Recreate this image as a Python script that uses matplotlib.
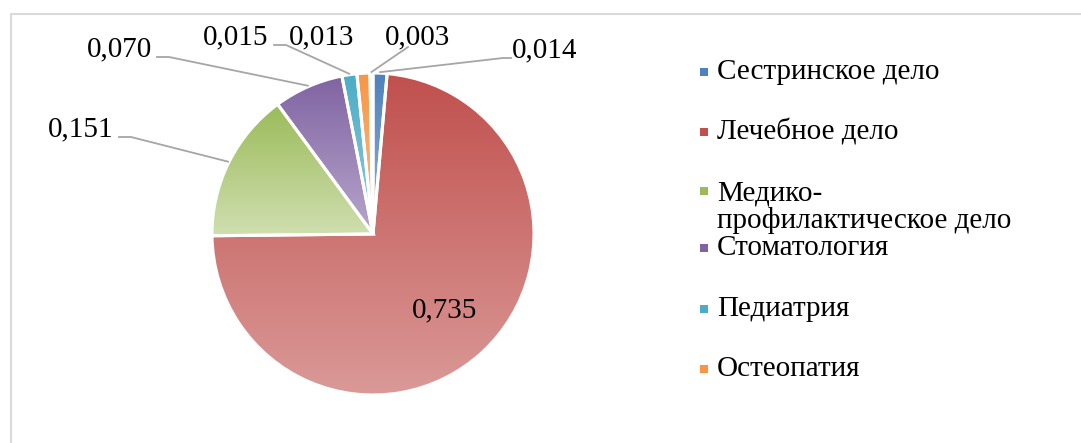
import numpy as np
import matplotlib.pyplot as plt
from matplotlib.colors import LinearSegmentedColormap
from matplotlib.patches import Rectangle
from matplotlib.lines import Line2D

# =============================
# Data
# =============================
categories = ["Сестринское дело", "Лечебное дело", "Медико-\nпрофилактическое дело",
              "Стоматология", "Педиатрия", "Остеопатия", ""]
values = [0.014, 0.735, 0.151, 0.070, 0.015, 0.013, 0.003]
value_labels = ["0,014", "0,735", "0,151", "0,070", "0,015", "0,013", "0,003"]

dark_colors = ["#4F81BD", "#C0504D", "#9BBB59", "#8064A2", "#4BACC6", "#F79646", "#2C4D75"]
light_colors = ["#95B3D7", "#DA9A98", "#D0DFB0", "#B7A6CC", "#93CDDD", "#FAC090", "#6A8AB5"]

# label text positions (pixels) and whether a leader line is drawn
label_pos = [(545, 50), (445, 310), (81, 129), (119, 49), (236, 37), (322, 37), (418, 37)]
leader = [True, False, True, True, True, False, True]

W, H = 1081, 443
cx, cy, r = 373, 443 - 234, 161

plt.rcParams['font.family'] = ['Liberation Serif', 'DejaVu Serif']

fig = plt.figure(figsize=(W / 100, H / 100), dpi=100)
ax = fig.add_axes([0, 0, 1, 1])

wedges, _ = ax.pie(values, radius=r, center=(cx, cy), startangle=90, counterclock=False,
                   frame=True, wedgeprops=dict(linewidth=2.2, edgecolor='white'))
ax.set_xlim(0, W)
ax.set_ylim(0, H)
ax.set_aspect('equal')
ax.axis('off')

# gradient fill per slice (dark top -> light bottom)
for w, c1, c2 in zip(wedges, dark_colors, light_colors):
    verts = w.get_patch_transform().transform(w.get_path().vertices)
    x0, x1 = verts[:, 0].min(), verts[:, 0].max()
    y0, y1 = verts[:, 1].min(), verts[:, 1].max()
    cmap = LinearSegmentedColormap.from_list("g", [c2, c1])
    grad = np.linspace(0, 1, 256).reshape(-1, 1)
    im = ax.imshow(grad, cmap=cmap, origin='lower', extent=[x0, x1, y0, y1],
                   aspect='auto', zorder=1)
    im.set_clip_path(w)
    w.set_facecolor('none')
    w.set_zorder(2)

# labels + leader lines
total = sum(values)
cum = 0
for v, lab, (tx, ty), ld in zip(values, value_labels, label_pos, leader):
    mid = np.deg2rad(90 - 360 * (cum + v / 2) / total)
    cum += v
    ty_d = H - ty
    ax.text(tx, ty_d, lab, ha='center', va='center', fontsize=21, color='black', zorder=5)
    if ld:
        px, py = cx + (r + 1) * np.cos(mid), cy + (r + 1) * np.sin(mid)
        half = 36
        if tx > px:
            ex = tx - half + 2
            pts_x = [px, ex - 8, ex]
        else:
            ex = tx + half + 2
            pts_x = [px, ex + 12, ex]
        ey = ty_d - 8 if abs(tx - px) > 100 else ty_d - 12
        if abs(tx - px) < 60:
            pts_x = [px, tx - 10]
            pts_y = [py, ey + 2]
        else:
            pts_y = [py, ey, ey]
        ax.add_line(Line2D(pts_x, pts_y, color='#A6A6A6', linewidth=1.3, zorder=4))

# legend (manual)
leg_y = [72, 132, 207, 248, 309, 369]
for i, (name, ly) in enumerate(zip(categories[:6], leg_y)):
    mk_y = 191 if i == 2 else ly
    ax.add_patch(Rectangle((700, H - mk_y - 4), 8, 8, facecolor=dark_colors[i],
                           edgecolor='none', zorder=5))
    ax.text(717, H - ly, name, ha='left', va='center', fontsize=21,
            linespacing=1.0, zorder=5)

# chart area border
ax.add_line(Line2D([11, 11, W], [0, H - 14, H - 14], color='#D9D9D9', linewidth=1.5))

fig.savefig("out.png", dpi=100)
